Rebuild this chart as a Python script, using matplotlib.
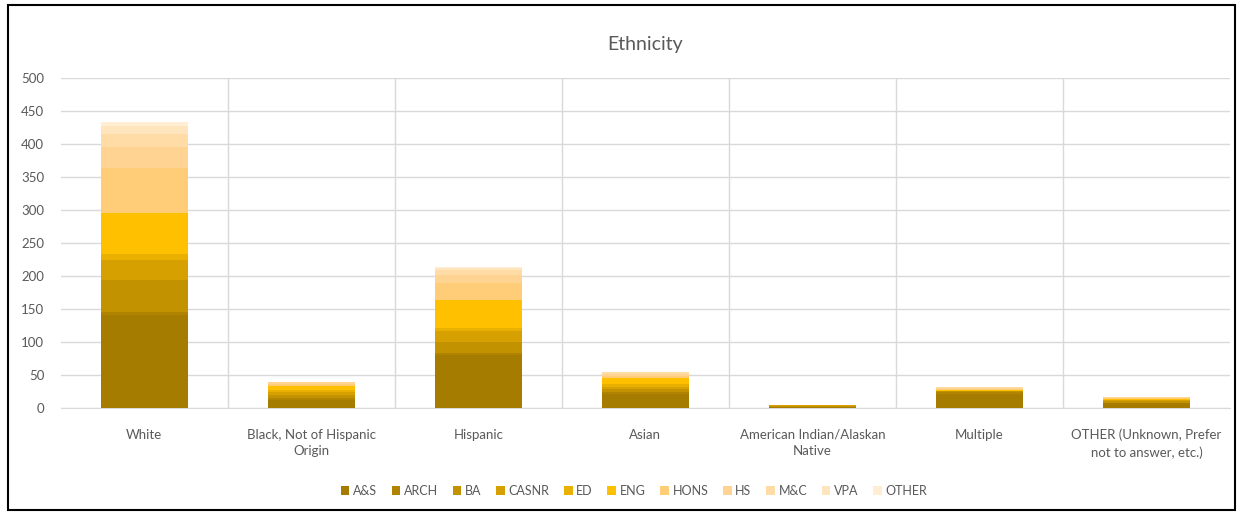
import numpy as np
import matplotlib.pyplot as plt
from matplotlib.patches import Rectangle

plt.rcParams['font.family'] = ['Lato', 'DejaVu Sans']

categories = ['White', 'Black, Not of Hispanic\nOrigin', 'Hispanic', 'Asian',
              'American Indian/Alaskan\nNative', 'Multiple',
              'OTHER (Unknown, Prefer\nnot to answer, etc.)']

colleges = ['A&S', 'ARCH', 'BA', 'CASNR', 'ED', 'ENG', 'HONS', 'HS', 'M&C', 'VPA', 'OTHER']

# counts per college for each ethnicity
a_s   = [141, 12, 80, 22, 2, 22, 7]
arch  = [5,   3,  3,  3,  0, 2,  1]
ba    = [48,  5,  17, 4,  1, 2,  2]
casnr = [30,  5,  16, 3,  1, 0,  2]
ed    = [10,  3,  5,  4,  0, 0,  0]
eng   = [61,  6,  43, 9,  1, 1,  2]
hons  = [68,  3,  25, 4,  0, 2,  1]
hs    = [33,  2,  12, 3,  0, 2,  1]
mc    = [19,  1,  8,  2,  0, 1,  0]
vpa   = [12,  0,  3,  1,  0, 0,  0]
other = [6,   0,  2,  0,  0, 0,  0]

series = [a_s, arch, ba, casnr, ed, eng, hons, hs, mc, vpa, other]
colors = ['#A67C00', '#B08300', '#C39200', '#D5A000', '#EAB000', '#FFC000',
          '#FFCC78', '#FFD391', '#FFDCA6', '#FFE5BE', '#FFEDD4']

fig = plt.figure(figsize=(12.43, 5.12), dpi=100)
ax = fig.add_axes([0.049, 0.203, 0.9405, 0.645])

x = np.arange(len(categories))
bottom = np.zeros(len(categories))
for name, vals, c in zip(colleges, series, colors):
    ax.bar(x, vals, bottom=bottom, width=0.52, color=c, label=name, zorder=3)
    bottom += np.array(vals)

ax.set_xlim(-0.5, len(categories) - 0.5)
ax.set_ylim(0, 500)
ax.set_yticks(range(0, 501, 50))
ax.set_xticks(x)
ax.set_xticklabels(categories, fontsize=9.5, color='#595959', linespacing=1.45)
ax.tick_params(axis='y', labelsize=9.5, colors='#595959', length=0, pad=12)
ax.tick_params(axis='x', length=0, pad=15)

# vertical separators between categories and horizontal grid
for b in np.arange(0.5, len(categories) - 0.5):
    ax.axvline(b, color='#D9D9D9', lw=1, zorder=1)
ax.yaxis.grid(True, color='#D9D9D9', lw=1, zorder=1)
for s in ['top', 'right', 'left']:
    ax.spines[s].set_visible(False)
ax.spines['bottom'].set_color('#D9D9D9')

fig.text(0.519, 0.914, 'Ethnicity', ha='center', va='center', fontsize=14, color='#595959')

leg = fig.legend(loc='center', bbox_to_anchor=(0.51, 0.041), ncol=11, frameon=False,
                 fontsize=9, handlelength=0.7, handleheight=0.7, handletextpad=0.3,
                 columnspacing=1.15)
for t in leg.get_texts():
    t.set_color('#595959')

fig.patches.append(Rectangle((0.0065, 0.004), 0.987, 0.986, transform=fig.transFigure,
                             fill=False, edgecolor='black', lw=1.5))

fig.savefig('out.png', dpi=100)
